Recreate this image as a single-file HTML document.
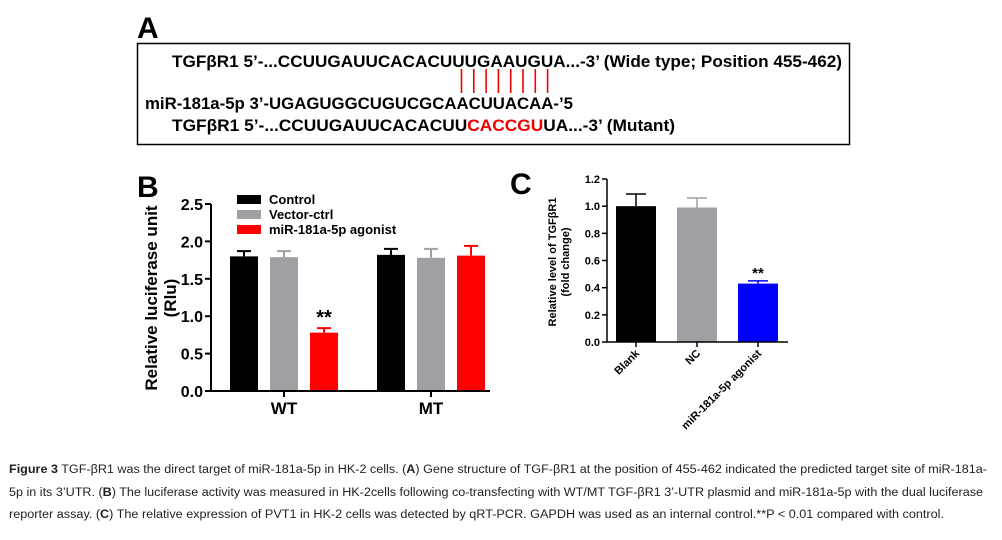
<!DOCTYPE html>
<html><head><meta charset="utf-8"><style>
body{margin:0;background:#fff;}
svg{display:block;font-family:"Liberation Sans",Arial,sans-serif;}
</style></head><body>
<svg id="fig" width="1002" height="540" viewBox="0 0 1002 540" xmlns="http://www.w3.org/2000/svg">
<!-- Panel A -->
<text x="137" y="38" font-size="30" font-weight="bold">A</text>
<rect x="137.5" y="43.5" width="712" height="101" fill="none" stroke="#000" stroke-width="1.5"/>
<g font-size="17" font-weight="bold">
<text x="172" y="67" textLength="670" lengthAdjust="spacingAndGlyphs">TGFβR1 5’-...CCUUGAUUCACACUUUGAAUGUA...-3’ (Wide type; Position 455-462)</text>
<text x="145" y="109" textLength="428" lengthAdjust="spacingAndGlyphs">miR-181a-5p 3’-UGAGUGGCUGUCGCAACUUACAA-’5</text>
<text x="172" y="131" textLength="503" lengthAdjust="spacingAndGlyphs">TGFβR1 5’-...CCUUGAUUCACACUU<tspan fill="#e00">CACCGU</tspan>UA...-3’ (Mutant)</text>
</g>
<g id="pairs" stroke="#e00" stroke-width="1.6"></g>
<!-- Panel B -->
<text x="137" y="197" font-size="30" font-weight="bold">B</text>
<g id="chartB"></g>
<!-- Panel C -->
<text x="510" y="194" font-size="30" font-weight="bold">C</text>
<g id="chartC"></g>
<!-- Caption -->
<g font-size="11.5" fill="#222">
<text x="9" y="473" textLength="978" lengthAdjust="spacingAndGlyphs"><tspan font-weight="bold">Figure 3</tspan>  TGF-βR1 was the direct target of miR-181a-5p in HK-2 cells. (<tspan font-weight="bold">A</tspan>) Gene structure of TGF-βR1 at the position of 455-462 indicated the predicted target site of miR-181a-</text>
<text x="9" y="496" textLength="974" lengthAdjust="spacingAndGlyphs">5p in its 3’UTR. (<tspan font-weight="bold">B</tspan>) The luciferase activity was measured in HK-2cells following co-transfecting with WT/MT TGF-βR1 3’-UTR plasmid and miR-181a-5p with the dual luciferase</text>
<text x="9" y="518" textLength="935" lengthAdjust="spacingAndGlyphs">reporter assay. (<tspan font-weight="bold">C</tspan>) The relative expression of PVT1 in HK-2 cells was detected by qRT-PCR. GAPDH was used as an internal control.**P &lt; 0.01 compared with control.</text>
</g>
</svg>
<script>
const NS='http://www.w3.org/2000/svg';
// Chart B data
const bGroups=['WT','MT'];
const bSeries=['Control','Vector-ctrl','miR-181a-5p agonist'];
const bValues=[[1.80,1.79,0.78],[1.82,1.78,1.81]];
const bErrors=[[0.07,0.08,0.06],[0.08,0.12,0.13]];
const bTicks=[0,0.5,1.0,1.5,2.0,2.5];
// Chart C data
const cCats=['Blank','NC','miR-181a-5p agonist'];
const cValues=[1.00,0.99,0.43];
const cErrors=[0.09,0.07,0.02];
const cTicks=[0,0.2,0.4,0.6,0.8,1.0,1.2];

function mk(tag,attrs,parent,text){const e=document.createElementNS(NS,tag);for(const k in attrs)e.setAttribute(k,attrs[k]);if(text!==undefined)e.textContent=text;parent.appendChild(e);return e;}

(function(){
const p=document.getElementById('pairs');
for(let i=0;i<8;i++){
 const x=461.5+i*12.3;
 const l=mk('line',{x1:x,x2:x,y1:69,y2:93},p);
 
 
}
})();

// Chart B
(function(){
const g=document.getElementById('chartB');
const x0=211,x1=490,yb=391,yt=204,max=2.5;
const y=v=>yb-(v/max)*(yb-yt);
const colors=['#000','#a0a0a4','#ff0000'];
const gStart=[230,377],gap=40,bw=28;
bTicks.forEach(t=>{
 const l=mk('line',{x1:x0-6,x2:x0,y1:y(t),y2:y(t),stroke:'#000','stroke-width':2},g);
 
 
 const tx=mk('text',{x:x0-8,y:y(t)+6,'font-size':16,'font-weight':'bold','text-anchor':'end'},g,t.toFixed(1));
 
 
});
bGroups.forEach((gr,gi)=>{
 bValues[gi].forEach((v,si)=>{
  const bx=gStart[gi]+si*gap, cx=bx+bw/2;
  const e=mk('line',{x1:cx,x2:cx,y1:y(v),y2:y(v+bErrors[gi][si]),stroke:colors[si],'stroke-width':2},g);
  
  
  const c=mk('line',{x1:cx-7,x2:cx+7,y1:y(v+bErrors[gi][si]),y2:y(v+bErrors[gi][si]),stroke:colors[si],'stroke-width':2},g);
  
  
  const r=mk('rect',{x:bx,y:y(v),width:bw,height:yb-y(v),fill:colors[si]},g);
  
  
 });
 const cx=gStart[gi]+gap+bw/2;
 const lbl=mk('text',{x:cx,y:yb+23,'font-size':17,'font-weight':'bold','text-anchor':'middle'},g,gr);
 
 
 const tk=mk('line',{x1:cx,x2:cx,y1:yb,y2:yb+6,stroke:'#000','stroke-width':2},g);
 
 
});
const st=mk('text',{x:gStart[0]+2*gap+bw/2,y:y(bValues[0][2]+bErrors[0][2])-4,'font-size':20,'font-weight':'bold','text-anchor':'middle'},g,'**');


const ax=mk('path',{d:`M${x0},${yt} V${yb} H${x1}`,fill:'none',stroke:'#000','stroke-width':2},g);


const yl=mk('text',{transform:`translate(157,298) rotate(-90)`,'font-size':17,'font-weight':'bold','text-anchor':'middle'},g,'Relative luciferase unit');


const yl2=mk('text',{transform:`translate(176,298) rotate(-90)`,'font-size':17,'font-weight':'bold','text-anchor':'middle'},g,'(Rlu)');


bSeries.forEach((s,i)=>{
 const ly=200+i*15;
 const r=mk('rect',{x:237,y:ly-5,width:24,height:9,fill:colors[i]},g);
 
 
 const t=mk('text',{x:269,y:ly+4,'font-size':13,'font-weight':'bold'},g,s);
 
 
});
})();

// Chart C
(function(){
const g=document.getElementById('chartC');
const x0=607,x1=788,yb=342,yt=179,max=1.2;
const y=v=>yb-(v/max)*(yb-yt);
const colors=['#000','#a0a0a4','#0000ff'];
const bx0=616,gap=61,bw=40;
cTicks.forEach(t=>{
 const l=mk('line',{x1:x0-5,x2:x0,y1:y(t),y2:y(t),stroke:'#000','stroke-width':1.5},g);
 
 
 const tx=mk('text',{x:x0-7,y:y(t)+4,'font-size':11,'font-weight':'bold','text-anchor':'end'},g,t.toFixed(1));
 
 
});
cCats.forEach((c,i)=>{
 const v=cValues[i],bx=bx0+i*gap,cx=bx+bw/2,top=y(v+cErrors[i]);
 const e=mk('line',{x1:cx,x2:cx,y1:y(v),y2:top,stroke:colors[i],'stroke-width':1.5},g);
 
 
 const cp=mk('line',{x1:cx-10,x2:cx+10,y1:top,y2:top,stroke:colors[i],'stroke-width':1.5},g);
 
 
 const r=mk('rect',{x:bx,y:y(v),width:bw,height:yb-y(v),fill:colors[i]},g);
 
 
 const tk=mk('line',{x1:cx,x2:cx,y1:yb,y2:yb+5,stroke:'#000','stroke-width':1.5},g);
 
 
 const t=mk('text',{transform:`translate(${cx+4},${yb+12}) rotate(-45)`,'font-size':11,'font-weight':'bold','text-anchor':'end'},g,c);
 
 
});
const st=mk('text',{x:bx0+2*gap+bw/2,y:y(cValues[2]+cErrors[2])-3,'font-size':15,'font-weight':'bold','text-anchor':'middle'},g,'**');


const ax=mk('path',{d:`M${x0},${yt} V${yb} H${x1}`,fill:'none',stroke:'#000','stroke-width':1.5},g);


const yl=mk('text',{transform:`translate(556,262) rotate(-90)`,'font-size':11,'font-weight':'bold','text-anchor':'middle'},g,'Relative level of TGFβR1');


const yl2=mk('text',{transform:`translate(569,262) rotate(-90)`,'font-size':11,'font-weight':'bold','text-anchor':'middle'},g,'(fold change)');


})();
</script>
</body></html>
